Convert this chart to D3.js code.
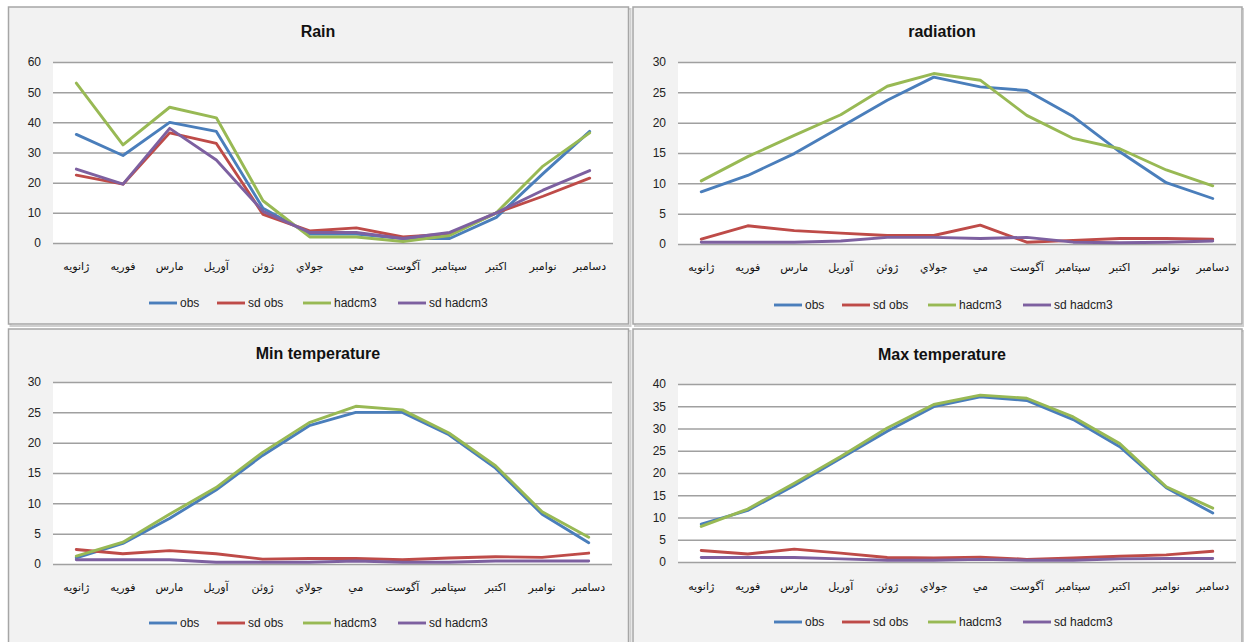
<!DOCTYPE html>
<html>
<head>
<meta charset="utf-8">
<script src="https://cdn.jsdelivr.net/npm/d3@7"></script>
<style>
  html, body { margin: 0; padding: 0; background: #ffffff; }
  svg { display: block; }
</style>
</head>
<body>
<svg id="chart" width="1244" height="642"></svg>
<script>
// ---------- DATA ----------
const months = ["ژانويه","فوريه","مارس","آوريل","ژوئن","جولاي","مي","آگوست","سپتامبر","اكتبر","نوامبر","دسامبر"];
const seriesNames = ["obs", "sd obs", "hadcm3", "sd hadcm3"];

const rainObs      = [36, 29, 40, 37, 11.5, 3, 3, 1.5, 1.5, 8.5, 23, 37];
const rainSdObs    = [22.5, 19.5, 36.5, 33, 9.5, 4, 5, 2, 3, 10, 15.5, 21.5];
const rainHad      = [53, 32.5, 45, 41.5, 14, 2, 2, 0.5, 2.5, 10, 25.5, 36.5];
const rainSdHad    = [24.5, 19.5, 38, 27.5, 10.5, 3.5, 3.5, 1.5, 3.5, 10, 17.5, 24];
const rainTicks    = [0, 10, 20, 30, 40, 50, 60];

const radObs       = [8.6, 11.3, 14.9, 19.3, 23.7, 27.5, 25.9, 25.3, 21, 15.2, 10.1, 7.5];
const radSdObs     = [0.8, 3.0, 2.2, 1.8, 1.4, 1.4, 3.1, 0.3, 0.6, 0.9, 0.9, 0.8];
const radHad       = [10.4, 14.4, 17.9, 21.3, 26, 28.1, 27, 21.2, 17.4, 15.7, 12.2, 9.6];
const radSdHad     = [0.3, 0.3, 0.3, 0.5, 1.1, 1.1, 0.9, 1.1, 0.3, 0.2, 0.3, 0.5];
const radTicks     = [0, 5, 10, 15, 20, 25, 30];

const minObs       = [1.0, 3.4, 7.5, 12.2, 17.9, 22.8, 25.0, 25.0, 21.3, 15.8, 8.2, 3.5];
const minSdObs     = [2.4, 1.7, 2.2, 1.7, 0.8, 0.9, 0.9, 0.7, 1.0, 1.2, 1.1, 1.8];
const minHad       = [1.3, 3.6, 8.2, 12.6, 18.4, 23.3, 26, 25.4, 21.6, 16.2, 8.6, 4.4];
const minSdHad     = [0.7, 0.7, 0.7, 0.3, 0.3, 0.3, 0.5, 0.3, 0.3, 0.5, 0.5, 0.5];
const minTicks     = [0, 5, 10, 15, 20, 25, 30];

const maxObs       = [8.5, 11.6, 17.2, 23.3, 29.4, 34.9, 37.1, 36.3, 32, 25.9, 16.7, 11];
const maxSdObs     = [2.6, 1.8, 2.9, 2.0, 1.0, 0.9, 1.1, 0.6, 0.9, 1.3, 1.6, 2.4];
const maxHad       = [8.0, 11.9, 17.7, 23.7, 30.1, 35.4, 37.5, 36.8, 32.6, 26.6, 16.9, 12.1];
const maxSdHad     = [1.0, 1.0, 1.0, 0.7, 0.4, 0.4, 0.6, 0.4, 0.4, 0.7, 0.8, 0.8];
const maxTicks     = [0, 5, 10, 15, 20, 25, 30, 35, 40];

// ---------- STYLE / LAYOUT ----------
const colors = ["#4A7EBB", "#BE4B48", "#98B954", "#7D60A0"];
const latinFont = "'Liberation Sans', Arial, sans-serif";
const arabicFont = "'DejaVu Sans', sans-serif";

const panels = [
  { title: "Rain", series: [rainObs, rainSdObs, rainHad, rainSdHad], ticks: rainTicks,
    box: [8.5, 7, 620, 317], plot: [53, 613, 62, 243], titleXY: [318, 31], labelY: 266, legendY: 303 },
  { title: "radiation", series: [radObs, radSdObs, radHad, radSdHad], ticks: radTicks,
    box: [633, 7, 609, 317], plot: [678, 1236, 62, 244], titleXY: [942, 31], labelY: 267, legendY: 305 },
  { title: "Min temperature", series: [minObs, minSdObs, minHad, minSdHad], ticks: minTicks,
    box: [8.5, 329, 620, 330], plot: [53, 612, 382, 564], titleXY: [318, 353], labelY: 587, legendY: 623 },
  { title: "Max temperature", series: [maxObs, maxSdObs, maxHad, maxSdHad], ticks: maxTicks,
    box: [633, 329, 609, 330], plot: [678, 1236, 384, 562], titleXY: [942, 354], labelY: 586, legendY: 622 }
];

const svg = d3.select("#chart");

panels.forEach(p => {
  const g = svg.append("g");
  const [bx, by, bw, bh] = p.box;
  // shadow
  g.append("rect").attr("x", bx + 2).attr("y", by + 2).attr("width", bw).attr("height", bh)
    .attr("fill", "none").attr("stroke", "#d0d0d0").attr("stroke-width", 2);
  // panel
  g.append("rect").attr("x", bx).attr("y", by).attr("width", bw).attr("height", bh)
    .attr("fill", "#f2f2f2").attr("stroke", "#a6a6a6").attr("stroke-width", 1.5);

  const [x0, x1, yTop, yBot] = p.plot;
  const x = d3.scaleBand().domain(months).range([x0, x1]);
  const y = d3.scaleLinear().domain([0, d3.max(p.ticks)]).range([yBot, yTop]);

  // plot area
  g.append("rect").attr("x", x0).attr("y", yTop).attr("width", x1 - x0).attr("height", yBot - yTop)
    .attr("fill", "#ffffff");

  // gridlines
  const yAxis = d3.axisLeft(y).tickValues(p.ticks).tickSize(-(x1 - x0)).tickPadding(12).tickFormat(d3.format("d"));
  const ya = g.append("g").attr("transform", `translate(${x0},0)`).call(yAxis);
  ya.select(".domain").remove();
  ya.selectAll(".tick line").attr("stroke", "#a0a0a0").attr("stroke-width", 1.5);
  ya.selectAll(".tick text").attr("font-family", latinFont).attr("font-size", 12).attr("fill", "#222");

  // x labels
  const xAxis = d3.axisBottom(x).tickSize(0).tickPadding(0);
  const xa = g.append("g").attr("transform", `translate(0,${p.labelY})`).call(xAxis);
  xa.select(".domain").remove();
  xa.selectAll(".tick text").attr("font-family", arabicFont).attr("font-size", 11)
    .attr("fill", "#111").attr("dy", "0.35em").attr("y", 0);

  // lines
  const line = d3.line().x((d, i) => x(months[i]) + x.bandwidth() / 2).y(d => y(d));
  p.series.forEach((s, k) => {
    g.append("path").datum(s).attr("d", line).attr("fill", "none")
      .attr("stroke", colors[k]).attr("stroke-width", 2.9)
      .attr("stroke-linejoin", "round").attr("stroke-linecap", "round");
  });

  // title
  g.append("text").attr("x", p.titleXY[0]).attr("y", p.titleXY[1]).attr("dy", "0.35em")
    .attr("text-anchor", "middle").attr("font-family", latinFont).attr("font-weight", "bold")
    .attr("font-size", 16).attr("fill", "#111").text(p.title);

  // legend
  const offs = [96, 164, 250, 345];
  seriesNames.forEach((n, k) => {
    const lx = x0 + offs[k];
    g.append("line").attr("x1", lx).attr("x2", lx + 28).attr("y1", p.legendY).attr("y2", p.legendY)
      .attr("stroke", colors[k]).attr("stroke-width", 2.9);
    g.append("text").attr("x", lx + 31).attr("y", p.legendY).attr("dy", "0.35em")
      .attr("font-family", latinFont).attr("font-size", 12).attr("fill", "#222").text(n);
  });
});
</script>
</body>
</html>
